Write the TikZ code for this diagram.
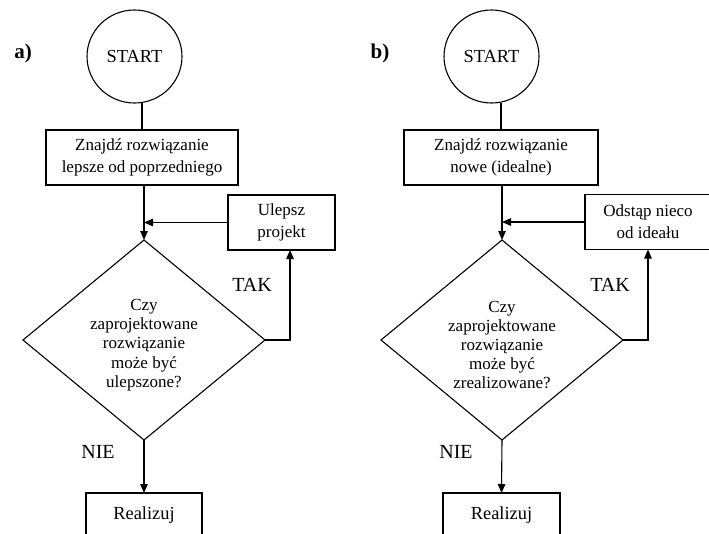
\documentclass[tikz,border=0pt]{standalone}
\usepackage{fontspec}
\setmainfont{Liberation Serif}
\usetikzlibrary{shapes.geometric,arrows.meta}
\begin{document}
\begin{tikzpicture}[x=1pt,y=-1pt,
  line width=1.1pt,
  every node/.style={inner sep=0pt,outer sep=0pt},
  arr/.style={-{Triangle[length=9pt,width=7.5pt]}},
  bodytxt/.style={font=\fontsize{17}{22}\selectfont,align=center},
  startnode/.style={draw,ellipse,minimum width=95pt,minimum height=93pt,font=\fontsize{18.4}{22}\selectfont},
  boxnode/.style={draw,rectangle,bodytxt,minimum height=55pt},
  decision/.style={draw,diamond,aspect=1.21,minimum width=242pt,minimum height=200pt},
  question/.style={font=\fontsize{17}{19.2}\selectfont,align=center},
  endbox/.style={draw,rectangle,minimum width=116pt,minimum height=44pt,font=\fontsize{18.4}{22}\selectfont},
  answer/.style={font=\fontsize{20}{24}\selectfont},
  panel/.style={font=\fontsize{21}{24}\selectfont\bfseries}
]
\useasboundingbox (0,0) rectangle (709,533);

% ---------- a) ----------
\node[panel] (labA) at (23,53) {a)};
\node[startnode] (startA) at (134.5,56.5) {START};
\node[boxnode,minimum width=192pt] (boxA) at (142,157.5) {Znajdź rozwiązanie\\lepsze od poprzedniego};
\node[decision] (diaA) at (144,340) {};
\node[question] (qA) at (144,345) {Czy\\zaprojektowane\\rozwiązanie\\może być\\ulepszone?};
\node[boxnode,minimum width=107pt] (impA) at (281.5,222.5) {Ulepsz\\projekt};
\node[endbox] (realA) at (144,515) {Realizuj};
\node[answer] (takA) at (252,285) {TAK};
\node[answer] (nieA) at (98,452) {NIE};
\coordinate (turnA) at (290,340);

\draw (boxA.north) -- (boxA.north |- startA.south);
\draw[arr] (diaA.north |- boxA.south) -- (diaA.north);
\draw[arr] (impA.west) -- (impA.west -| diaA.north);
\draw[arr] (diaA.east) -- (turnA) -- (turnA |- impA.south);
\draw[arr] (diaA.south) -- (realA.north);

% ---------- b) ----------
\node[panel] (labB) at (380,53) {b)};
\node[startnode] (startB) at (491.5,56.5) {START};
\node[boxnode,minimum width=194pt] (boxB) at (501,157.5) {Znajdź rozwiązanie\\nowe (idealne)};
\node[decision] (diaB) at (502,340) {};
\node[question] (qB) at (502,345) {Czy\\zaprojektowane\\rozwiązanie\\może być\\zrealizowane?};
\node[boxnode,minimum width=126pt] (impB) at (648,222) {Odstąp nieco\\od ideału};
\node[endbox,minimum width=117pt] (realB) at (501.5,515) {Realizuj};
\node[answer] (takB) at (610,285) {TAK};
\node[answer] (nieB) at (456,452) {NIE};
\coordinate (turnB) at (648,340);

\draw (boxB.north) -- (boxB.north |- startB.south);
\draw[arr] (diaB.north |- boxB.south) -- (diaB.north);
\draw[arr] (impB.west) -- (impB.west -| diaB.north);
\draw[arr] (diaB.east) -- (turnB) -- (turnB |- impB.south);
\draw[arr] (diaB.south) -- (realB.north);
\end{tikzpicture}
\end{document}
